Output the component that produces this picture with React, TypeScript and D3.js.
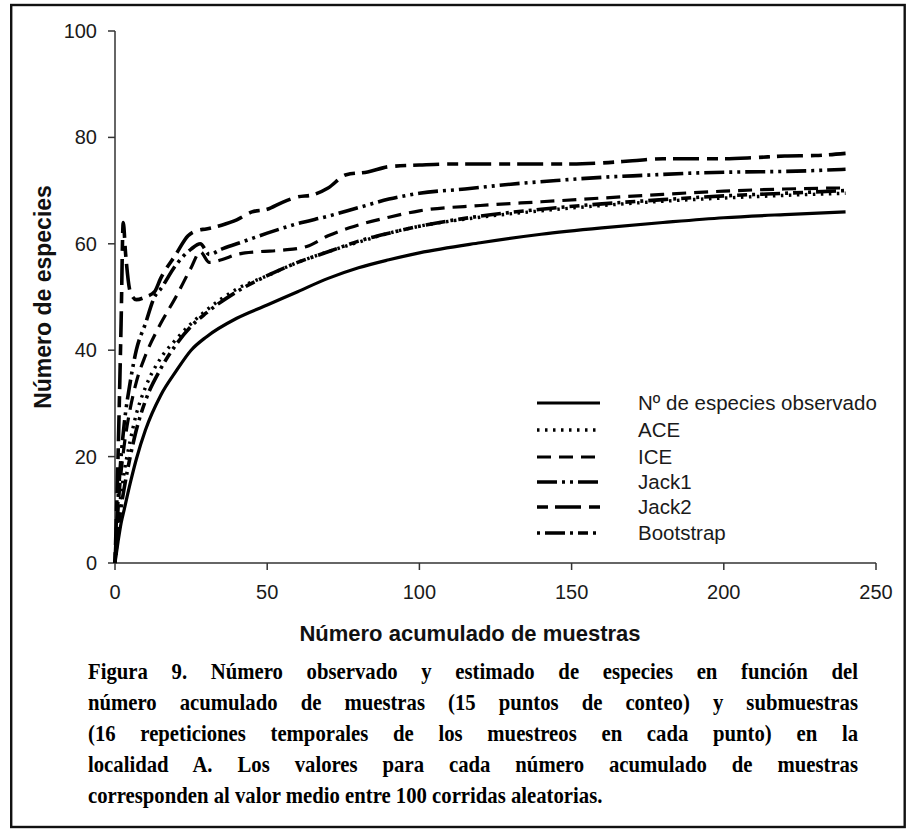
import React, { useEffect, useRef } from "react";
import * as d3 from "d3";

const W = 906;
const H = 829;

// ---- data ----
const xTicks = [0, 50, 100, 150, 200, 250];
const yTicks = [0, 20, 40, 60, 80, 100];

const obsX = [0, 1, 2, 3, 5, 7, 10, 15, 20, 25, 30, 40, 50, 60, 70, 80, 90, 100, 120, 140, 160, 180, 200, 220, 240];
const obsY = [0, 4, 7.5, 10, 15, 19.5, 25, 31.5, 36, 40, 42.5, 46, 48.5, 51, 53.5, 55.5, 57, 58.3, 60.2, 61.8, 63, 64, 64.9, 65.5, 66];

const aceX = [0, 1, 2, 3, 5, 7, 10, 15, 20, 25, 30, 40, 50, 60, 70, 80, 90, 100, 120, 140, 160, 180, 200, 220, 240];
const aceY = [0, 8, 13, 17, 23, 28, 33, 38.5, 42, 45, 47.5, 51.5, 54, 56.5, 58.5, 60.3, 62, 63.3, 65, 66.2, 67.2, 68, 68.6, 69.1, 69.5];

const iceX = [0, 1, 2, 3, 5, 7, 10, 15, 20, 25, 28, 31, 35, 40, 47, 55, 63, 70, 77, 90, 100, 120, 140, 160, 180, 200, 220, 240];
const iceY = [0, 10, 17, 22, 29, 34, 39, 45, 50, 55.5, 58.5, 56.5, 57, 58, 58.5, 58.8, 59.5, 61.5, 63, 65, 66.2, 67.2, 67.9, 68.6, 69.3, 69.9, 70.3, 70.5];

const jack1X = [0, 1, 2, 3, 5, 7, 10, 13, 15, 20, 25, 28, 31, 35, 40, 50, 60, 70, 80, 90, 100, 115, 130, 145, 160, 175, 190, 205, 220, 240];
const jack1Y = [0, 12, 20, 26, 34, 40, 45, 50, 51.5, 56, 59, 60, 58, 59, 60, 62, 63.8, 65.2, 66.8, 68.4, 69.5, 70.3, 71.2, 71.9, 72.5, 72.9, 73.3, 73.5, 73.6, 74];

const jack2X = [0, 1, 2, 2.7, 3.5, 5, 7, 10, 13, 15, 20, 24, 27, 30, 35, 40, 45, 50, 55, 60, 65, 70, 76, 83, 90, 100, 110, 120, 130, 140, 150, 160, 170, 180, 190, 200, 210, 220, 230, 240];
const jack2Y = [0, 20, 45, 64, 58, 51, 49.5, 50, 51, 53.5, 58, 61.5, 62.5, 62.8, 63.5, 64.5, 66, 66.5, 67.8, 68.8, 69.2, 70.5, 73, 73.5, 74.5, 74.8, 75, 75, 75, 75, 75, 75.2, 75.6, 76, 76, 76, 76.2, 76.5, 76.6, 77];

const bootX = [0, 1, 2, 3, 5, 7, 10, 15, 20, 25, 30, 40, 50, 60, 70, 80, 90, 100, 120, 140, 160, 180, 200, 220, 240];
const bootY = [0, 6, 10.5, 14, 20, 25, 30.5, 36.5, 41, 44.5, 47, 51, 54, 56.5, 58.5, 60.5, 62, 63.3, 65.2, 66.5, 67.5, 68.3, 69, 69.5, 70];

const seriesNames = ["Nº de especies observado", "ACE", "ICE", "Jack1", "Jack2", "Bootstrap"];

const captionLines = [
  "Figura 9. Número observado y estimado de especies en función del",
  "número acumulado de muestras (15 puntos de conteo) y submuestras",
  "(16 repeticiones temporales de los muestreos en cada punto) en la",
  "localidad A. Los valores para cada número acumulado de muestras",
  "corresponden al valor medio entre 100 corridas aleatorias.",
];

const xTitle = "Número acumulado de muestras";
const yTitle = "Número de especies";

// ---- styles ----
const seriesStyles = [
  { dash: null, width: 3.2 },
  { dash: "2.5 5.5", width: 3.4 },
  { dash: "14 8", width: 3.2 },
  { dash: "20 5 3 5 3 5", width: 3.6 },
  { dash: "11 7 26 8", width: 3.6 },
  { dash: "3 5 20 5 3 5 10 5", width: 3.6 },
];

const SANS = "'Liberation Sans', Arial, sans-serif";
const SERIF = "'Times New Roman', 'Liberation Serif', Times, 'Nimbus Roman', serif";

export default function App() {
  const capRef = useRef<SVGGElement | null>(null);

  const x = d3.scaleLinear().domain([0, 250]).range([115, 876]);
  const y = d3.scaleLinear().domain([0, 100]).range([563, 31]);

  const seriesData = [
    [obsX, obsY],
    [aceX, aceY],
    [iceX, iceY],
    [jack1X, jack1Y],
    [jack2X, jack2Y],
    [bootX, bootY],
  ].map(([xs, ys]) => xs.map((v, i) => [v, ys[i]] as [number, number]));

  const line = d3
    .line<[number, number]>()
    .x((d) => x(d[0]))
    .y((d) => y(d[1]))
    .curve(d3.curveMonotoneX);

  const capLeft = 88;
  const capRight = 858;
  const lastLineWidth = 515;

  useEffect(() => {
    if (!capRef.current) return;
    const texts = Array.from(capRef.current.querySelectorAll("text")) as SVGTextElement[];
    texts.forEach((el) => el.setAttribute("word-spacing", "0"));
    const last = texts[texts.length - 1];
    const lastLen = last.getComputedTextLength();
    const sx = lastLen > 0 ? Math.min(1, lastLineWidth / lastLen) : 1;
    texts.forEach((el, i) => {
      const yy = Number(el.getAttribute("data-y"));
      el.setAttribute("transform", `translate(${capLeft},${yy}) scale(${sx},1)`);
      if (i < texts.length - 1) {
        const len = el.getComputedTextLength();
        const txt = el.textContent || "";
        const spaces = (txt.match(/ /g) || []).length;
        if (spaces > 0) {
          const ws = ((capRight - capLeft) / sx - len) / spaces;
          el.setAttribute("word-spacing", String(ws));
        }
      }
    });
  }, []);

  const legendX0 = 537;
  const legendX1 = 600;
  const legendTextX = 638;
  const legendRows = [403, 430, 457, 482, 507, 533];

  return (
    <div style={{ position: "absolute", left: 0, top: 0 }}>
      <svg width={W} height={H} xmlns="http://www.w3.org/2000/svg" style={{ display: "block", background: "#fff" }}>
        <rect x={0} y={0} width={W} height={H} fill="#fff" />
        <rect x={11.2} y={5} width={893.5} height={822} fill="none" stroke="#111" strokeWidth={2.4} />

        {/* axes */}
        <line x1={x(0)} x2={x(0)} y1={y(100)} y2={y(0)} stroke="#333" strokeWidth={1.5} />
        <line x1={x(0)} x2={x(250)} y1={y(0)} y2={y(0)} stroke="#333" strokeWidth={1.5} />
        {yTicks.map((t) => (
          <g key={"yt" + t}>
            <line x1={x(0) - 7} x2={x(0)} y1={y(t)} y2={y(t)} stroke="#333" strokeWidth={1.5} />
            <text x={97} y={y(t) + 7} textAnchor="end" fontFamily={SANS} fontSize={20} fill="#1a1a1a">
              {t}
            </text>
          </g>
        ))}
        {xTicks.map((t) => (
          <g key={"xt" + t}>
            <line x1={x(t)} x2={x(t)} y1={y(0)} y2={y(0) + 7} stroke="#333" strokeWidth={1.5} />
            <text x={x(t)} y={599} textAnchor="middle" fontFamily={SANS} fontSize={20} fill="#1a1a1a">
              {t}
            </text>
          </g>
        ))}

        <text x={470} y={641} textAnchor="middle" fontFamily={SANS} fontSize={22} fontWeight="bold" fill="#111">
          {xTitle}
        </text>
        <text
          transform={`translate(51,297) rotate(-90)`}
          textAnchor="middle"
          fontFamily={SANS}
          fontSize={23}
          fontWeight="bold"
          fill="#111"
        >
          {yTitle}
        </text>

        {/* series */}
        {seriesData.map((d, i) => (
          <path
            key={"s" + i}
            d={line(d) || ""}
            fill="none"
            stroke="#000"
            strokeWidth={seriesStyles[i].width}
            strokeDasharray={seriesStyles[i].dash || undefined}
            strokeLinejoin="round"
          />
        ))}

        {/* legend */}
        {seriesNames.map((name, i) => (
          <g key={"lg" + i}>
            <line
              x1={legendX0}
              x2={legendX1}
              y1={legendRows[i]}
              y2={legendRows[i]}
              stroke="#000"
              strokeWidth={seriesStyles[i].width}
              strokeDasharray={seriesStyles[i].dash || undefined}
            />
            <text x={legendTextX} y={legendRows[i] + 7} fontFamily={SANS} fontSize={20.5} fill="#1a1a1a">
              {name}
            </text>
          </g>
        ))}

        {/* caption */}
        <g ref={capRef}>
          {captionLines.map((ln, i) => (
            <text
              key={"cap" + i}
              x={0}
              y={0}
              data-y={679 + i * 31}
              transform={`translate(${capLeft},${679 + i * 31})`}
              fontFamily={SERIF}
              fontSize={23}
              fontWeight="bold"
              fill="#000"
            >
              {ln}
            </text>
          ))}
        </g>
      </svg>
    </div>
  );
}
